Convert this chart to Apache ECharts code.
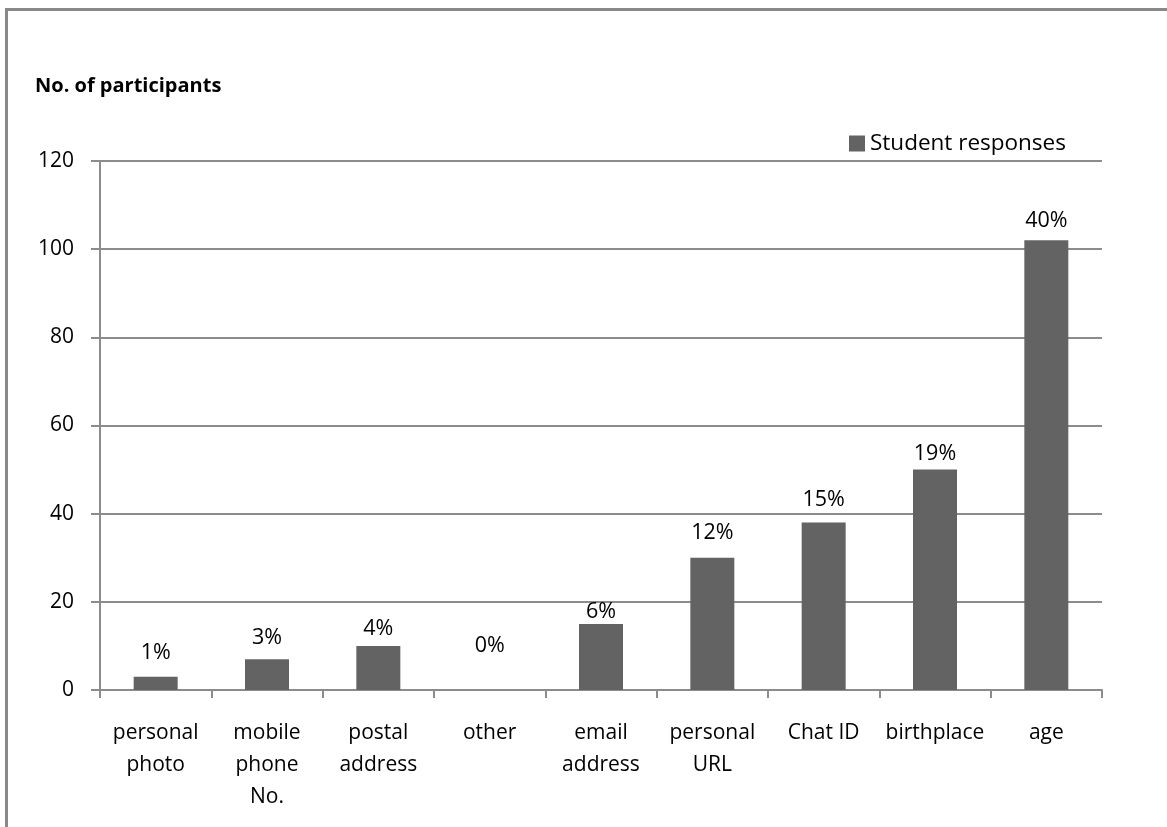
<!DOCTYPE html>
<html>
<head>
<meta charset="utf-8">
<script src="https://cdn.jsdelivr.net/npm/echarts@6/dist/echarts.min.js"></script>
<style>html,body{margin:0;padding:0;background:#fff}#c{width:1167px;height:827px}</style>
</head>
<body>
<div id="c"></div>
<script>
const categories = ['personal\nphoto', 'mobile\nphone\nNo.', 'postal\naddress', 'other', 'email\naddress', 'personal\nURL', 'Chat ID', 'birthplace', 'age'];
const participants = [3, 7, 10, 0, 15, 30, 38, 50, 102];
const percentLabels = ['1%', '3%', '4%', '0%', '6%', '12%', '15%', '19%', '40%'];
const labelLift = [13, 10, 6, 33, 1, 14, 12, 5, 8];
const yTicks = [0, 20, 40, 60, 80, 100, 120];

const FONT = '"Open Sans", sans-serif';
const chart = echarts.init(document.getElementById('c'));
chart.setOption({
  animation: false,
  backgroundColor: '#fff',
  graphic: [{
    type: 'rect', left: 4, top: 7,
    shape: { width: 1300, height: 1000 },
    style: { fill: 'none', stroke: '#898989', lineWidth: 3 }
  }, {
    type: 'text', left: 35, top: 76,
    style: { text: 'No. of participants', font: 'bold 20px ' + FONT, fill: '#000' }
  }],
  legend: {
    left: 844, top: 127,
    itemWidth: 16, itemHeight: 16, itemGap: 10,
    icon: 'rect',
    textStyle: { fontFamily: FONT, fontSize: 22.5, color: '#000' },
    data: ['Student responses']
  },
  grid: { left: 100, right: 65, top: 161, bottom: 137 },
  xAxis: {
    type: 'category',
    data: categories,
    axisLine: { lineStyle: { color: '#8c8c8c', width: 2 } },
    axisTick: { show: true, length: 8, lineStyle: { color: '#8c8c8c', width: 2 } },
    axisLabel: { interval: 0, margin: 27, fontFamily: FONT, fontSize: 21, color: '#000', lineHeight: 32 }
  },
  yAxis: {
    type: 'value',
    min: yTicks[0], max: yTicks[yTicks.length - 1], interval: 20,
    axisLine: { show: true, lineStyle: { color: '#8c8c8c', width: 2 } },
    axisTick: { show: true, length: 9, lineStyle: { color: '#8c8c8c', width: 2 } },
    splitLine: { lineStyle: { color: '#8c8c8c', width: 2 } },
    axisLabel: { margin: 26, fontFamily: FONT, fontSize: 21, color: '#000' }
  },
  series: [{
    name: 'Student responses',
    type: 'bar',
    barWidth: 44,
    itemStyle: { color: '#636363' },
    data: participants.map((v, i) => ({
      value: v,
      label: {
        show: true, position: 'top', distance: 0,
        offset: [0, -labelLift[i]],
        formatter: percentLabels[i],
        fontFamily: FONT, fontSize: 21.5, color: '#000'
      }
    }))
  }]
});
</script>
</body>
</html>
